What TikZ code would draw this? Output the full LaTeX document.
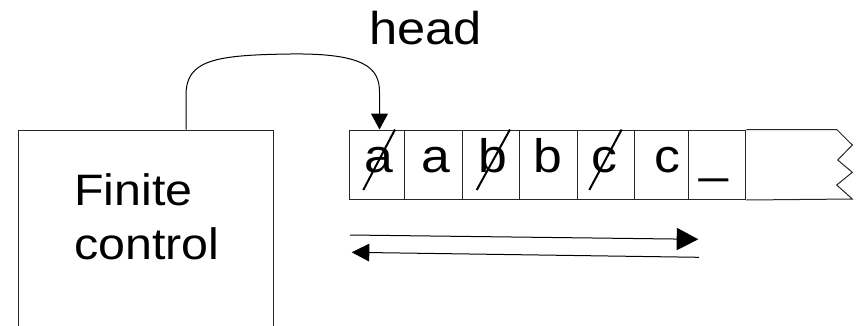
\documentclass[tikz,border=0pt]{standalone}
\usepackage{fontspec}
\setmainfont{Liberation Sans}
\newfontfamily\lsf[FakeStretch=1.1]{Liberation Sans}
\usetikzlibrary{arrows.meta}
\tikzset{
  thinline/.style={draw=black!85, line width=1pt},
  cellbox/.style={thinline, anchor=north west, minimum height=69.5pt, inner sep=0pt},
  sym/.style={anchor=base, inner sep=0pt, font=\lsf\fontsize{47}{52}\selectfont},
  strike/.style={draw=black, line width=2pt},
  bigarrow/.style={draw=black, line width=1pt, -{Triangle[length=21.6pt,width=22.3pt]}},
  smallarrow/.style={draw=black, line width=1pt, -{Triangle[length=17.6pt,width=17.7pt]}},
  headarrow/.style={draw=black, line width=1pt, -{Triangle[length=16pt,width=17pt]}},
  fctext/.style={anchor=base west, inner sep=0pt, font=\lsf\fontsize{44}{54}\selectfont},
}
\begin{document}
\begin{tikzpicture}[x=1pt,y=-1pt]
\useasboundingbox (0,0) rectangle (857,325);
\clip (0,0) rectangle (857,325);
% finite control
\node[thinline, anchor=north west, minimum width=255.3pt, minimum height=230pt, inner sep=0pt] (fc) at (18,129.5) {};
\node[fctext] (fct1) at (74,205) {Finite};
\node[fctext] (fct2) at (74,259) {control};
% head label
\node[anchor=base, inner sep=0pt, font=\lsf\fontsize{46}{50}\selectfont] (hl) at (425.5,44) {head};
% tape cells
\node[cellbox, minimum width=55pt] (c1) at (349,129.5) {};
\node[cellbox, minimum width=57.7pt] (c2) at (404,129.5) {};
\node[cellbox, minimum width=57.3pt] (c3) at (461.7,129.5) {};
\node[cellbox, minimum width=57.7pt] (c4) at (519,129.5) {};
\node[cellbox, minimum width=57.3pt] (c5) at (576.7,129.5) {};
\node[cellbox, minimum width=54pt] (c6) at (634,129.5) {};
\node[cellbox, minimum width=57.3pt] (c7) at (688,129.5) {};
\coordinate (t8) at (836.7,129.5);
\coordinate (b8) at (852.3,199);
\draw[thinline] (c7.north east) -- (t8) -- (852.3,145) -- (837.7,160) -- (852.3,172.3) -- (836.7,185) -- (b8) -- (c7.south east);
% symbols
\node[sym] (s1) at (379,172.3) {a};
\node[sym] (s2) at (435.5,172.3) {a};
\node[sym] (s3) at (493.3,172.3) {b};
\node[sym] (s4) at (548,172.3) {b};
\node[sym] (s5) at (604,172.3) {c};
\node[sym] (s6) at (667,172.3) {c};
\node[sym] (s7) at (714,172.3) {\_};
% strike-throughs
\draw[strike] (363.3,190) -- (395,129.5);
\draw[strike] (476.7,190) -- (510,129.5);
\draw[strike] (589.3,190) -- (621.7,129.5);
% head arrow
\draw[headarrow] (fc.north west) ++ (168,0) -- (186,95) .. controls (186,60) and (215,55) .. (290,54) .. controls (365,53) and (379.5,68) .. (379.5,92) -- (379.5,129.5);
% direction arrows
\coordinate (ra) at (350,235);
\coordinate (rb) at (698.3,239.3);
\coordinate (la) at (699,257.3);
\coordinate (lb) at (351.7,252.3);
\draw[bigarrow] (ra) -- (rb);
\draw[smallarrow] (la) -- (lb);
\end{tikzpicture}
\end{document}
